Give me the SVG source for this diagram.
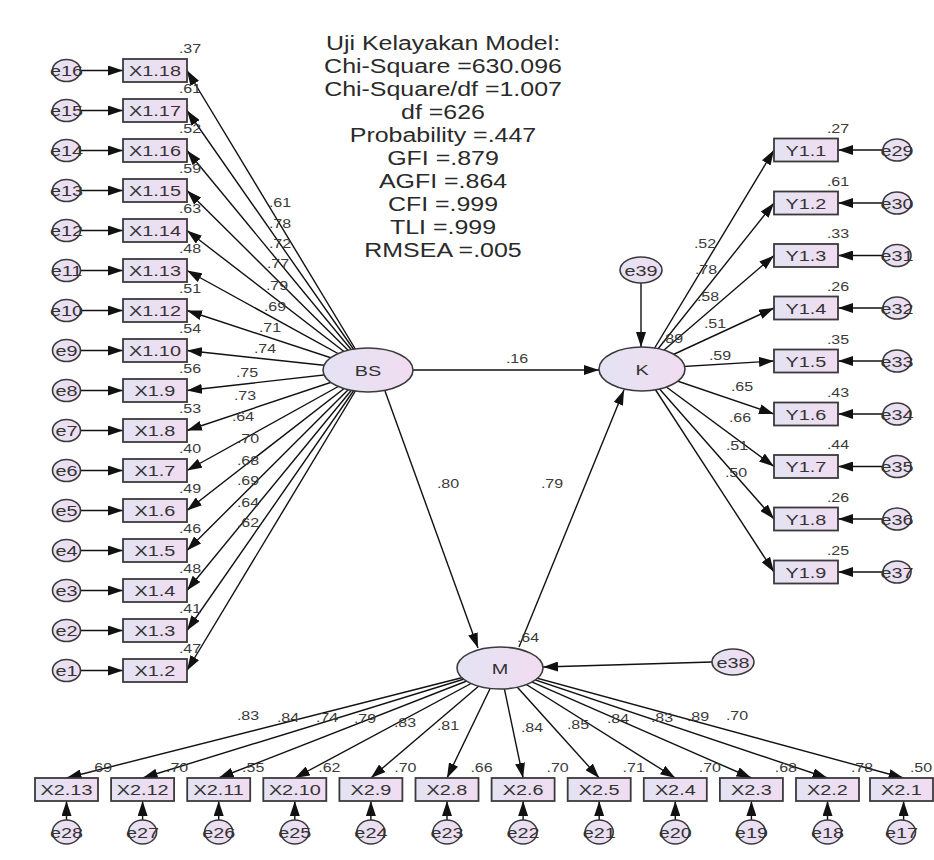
<svg xmlns="http://www.w3.org/2000/svg" width="934" height="860" viewBox="0 0 934 860">
<defs>
<linearGradient id="fillg" x1="0" y1="0" x2="1" y2="0">
<stop offset="0" stop-color="#e3e3f3"/>
<stop offset="1" stop-color="#f1dcf0"/>
</linearGradient>
<marker id="ah" viewBox="0 0 15 10" refX="15" refY="5" markerWidth="15" markerHeight="10" markerUnits="userSpaceOnUse" orient="auto">
<path d="M0,0 L15,5 L0,10 z" fill="#111"/>
</marker>
<style>
.box{fill:url(#fillg);stroke:#3a3a3a;stroke-width:1.8}
.lat{fill:url(#fillg);stroke:#3a3a3a;stroke-width:1.6}
.err{fill:url(#fillg);stroke:#3a3a3a;stroke-width:1.6}
.ln{stroke:#111;stroke-width:1.4;fill:none;marker-end:url(#ah)}
text{font-family:"Liberation Sans",Arial,sans-serif;text-anchor:middle;fill:#333}
.lb{font-size:15.5px}
.sm{font-size:12.5px;fill:#3a3a3a}
.st{font-size:19.5px;fill:#2a2a2a}
</style>
</defs>
<rect width="934" height="860" fill="#fff"/>

<g id="connectors">
<line class="ln" x1="368" y1="370" x2="187" y2="70.5"/>
<line class="ln" x1="368" y1="370" x2="187" y2="110.5"/>
<line class="ln" x1="368" y1="370" x2="187" y2="150.5"/>
<line class="ln" x1="368" y1="370" x2="187" y2="190.5"/>
<line class="ln" x1="368" y1="370" x2="187" y2="230.5"/>
<line class="ln" x1="368" y1="370" x2="187" y2="270.5"/>
<line class="ln" x1="368" y1="370" x2="187" y2="310.5"/>
<line class="ln" x1="368" y1="370" x2="187" y2="350.5"/>
<line class="ln" x1="368" y1="370" x2="187" y2="390.5"/>
<line class="ln" x1="368" y1="370" x2="187" y2="430.5"/>
<line class="ln" x1="368" y1="370" x2="187" y2="470.5"/>
<line class="ln" x1="368" y1="370" x2="187" y2="510.5"/>
<line class="ln" x1="368" y1="370" x2="187" y2="550.5"/>
<line class="ln" x1="368" y1="370" x2="187" y2="590.5"/>
<line class="ln" x1="368" y1="370" x2="187" y2="630.5"/>
<line class="ln" x1="368" y1="370" x2="187" y2="670.5"/>
<line class="ln" x1="80.5" y1="70.5" x2="123" y2="70.5"/>
<line class="ln" x1="80.5" y1="110.5" x2="123" y2="110.5"/>
<line class="ln" x1="80.5" y1="150.5" x2="123" y2="150.5"/>
<line class="ln" x1="80.5" y1="190.5" x2="123" y2="190.5"/>
<line class="ln" x1="80.5" y1="230.5" x2="123" y2="230.5"/>
<line class="ln" x1="80.5" y1="270.5" x2="123" y2="270.5"/>
<line class="ln" x1="80.5" y1="310.5" x2="123" y2="310.5"/>
<line class="ln" x1="80.5" y1="350.5" x2="123" y2="350.5"/>
<line class="ln" x1="80.5" y1="390.5" x2="123" y2="390.5"/>
<line class="ln" x1="80.5" y1="430.5" x2="123" y2="430.5"/>
<line class="ln" x1="80.5" y1="470.5" x2="123" y2="470.5"/>
<line class="ln" x1="80.5" y1="510.5" x2="123" y2="510.5"/>
<line class="ln" x1="80.5" y1="550.5" x2="123" y2="550.5"/>
<line class="ln" x1="80.5" y1="590.5" x2="123" y2="590.5"/>
<line class="ln" x1="80.5" y1="630.5" x2="123" y2="630.5"/>
<line class="ln" x1="80.5" y1="670.5" x2="123" y2="670.5"/>
<line class="ln" x1="642" y1="369" x2="774" y2="150"/>
<line class="ln" x1="642" y1="369" x2="774" y2="203"/>
<line class="ln" x1="642" y1="369" x2="774" y2="255.5"/>
<line class="ln" x1="642" y1="369" x2="774" y2="308"/>
<line class="ln" x1="642" y1="369" x2="774" y2="361"/>
<line class="ln" x1="642" y1="369" x2="774" y2="414"/>
<line class="ln" x1="642" y1="369" x2="774" y2="466.5"/>
<line class="ln" x1="642" y1="369" x2="774" y2="519"/>
<line class="ln" x1="642" y1="369" x2="774" y2="572"/>
<line class="ln" x1="883" y1="150" x2="838" y2="150"/>
<line class="ln" x1="883" y1="203" x2="838" y2="203"/>
<line class="ln" x1="883" y1="255.5" x2="838" y2="255.5"/>
<line class="ln" x1="883" y1="308" x2="838" y2="308"/>
<line class="ln" x1="883" y1="361" x2="838" y2="361"/>
<line class="ln" x1="883" y1="414" x2="838" y2="414"/>
<line class="ln" x1="883" y1="466.5" x2="838" y2="466.5"/>
<line class="ln" x1="883" y1="519" x2="838" y2="519"/>
<line class="ln" x1="883" y1="572" x2="838" y2="572"/>
<line class="ln" x1="500" y1="668" x2="66.5" y2="778"/>
<line class="ln" x1="500" y1="668" x2="142.6" y2="778"/>
<line class="ln" x1="500" y1="668" x2="218.7" y2="778"/>
<line class="ln" x1="500" y1="668" x2="294.8" y2="778"/>
<line class="ln" x1="500" y1="668" x2="370.9" y2="778"/>
<line class="ln" x1="500" y1="668" x2="447" y2="778"/>
<line class="ln" x1="500" y1="668" x2="523.1" y2="778"/>
<line class="ln" x1="500" y1="668" x2="599.2" y2="778"/>
<line class="ln" x1="500" y1="668" x2="675.3" y2="778"/>
<line class="ln" x1="500" y1="668" x2="751.4" y2="778"/>
<line class="ln" x1="500" y1="668" x2="827.5" y2="778"/>
<line class="ln" x1="500" y1="668" x2="903.6" y2="778"/>
<line class="ln" x1="66.5" y1="820" x2="66.5" y2="801"/>
<line class="ln" x1="142.6" y1="820" x2="142.6" y2="801"/>
<line class="ln" x1="218.7" y1="820" x2="218.7" y2="801"/>
<line class="ln" x1="294.8" y1="820" x2="294.8" y2="801"/>
<line class="ln" x1="370.9" y1="820" x2="370.9" y2="801"/>
<line class="ln" x1="447" y1="820" x2="447" y2="801"/>
<line class="ln" x1="523.1" y1="820" x2="523.1" y2="801"/>
<line class="ln" x1="599.2" y1="820" x2="599.2" y2="801"/>
<line class="ln" x1="675.3" y1="820" x2="675.3" y2="801"/>
<line class="ln" x1="751.4" y1="820" x2="751.4" y2="801"/>
<line class="ln" x1="827.5" y1="820" x2="827.5" y2="801"/>
<line class="ln" x1="903.6" y1="820" x2="903.6" y2="801"/>
<line class="ln" x1="413" y1="370" x2="599" y2="370"/>
<line class="ln" x1="385" y1="391" x2="478" y2="648"/>
<line class="ln" x1="519" y1="647" x2="624" y2="390"/>
<line class="ln" x1="641" y1="283" x2="641" y2="347"/>
<line class="ln" x1="712" y1="662" x2="543" y2="667"/>
<g class="coef">
<text class="sm" transform="translate(280 206.5) scale(1.28 1)">.61</text>
<text class="sm" transform="translate(280 227.5) scale(1.28 1)">.78</text>
<text class="sm" transform="translate(280 247.5) scale(1.28 1)">.72</text>
<text class="sm" transform="translate(278 267.5) scale(1.28 1)">.77</text>
<text class="sm" transform="translate(277 289.5) scale(1.28 1)">.79</text>
<text class="sm" transform="translate(275 310.5) scale(1.28 1)">.69</text>
<text class="sm" transform="translate(270 331.5) scale(1.28 1)">.71</text>
<text class="sm" transform="translate(265 352.5) scale(1.28 1)">.74</text>
<text class="sm" transform="translate(247 376.5) scale(1.28 1)">.75</text>
<text class="sm" transform="translate(245 399.5) scale(1.28 1)">.73</text>
<text class="sm" transform="translate(243 420.5) scale(1.28 1)">.64</text>
<text class="sm" transform="translate(248 442.5) scale(1.28 1)">.70</text>
<text class="sm" transform="translate(248 464.5) scale(1.28 1)">.68</text>
<text class="sm" transform="translate(248 484.5) scale(1.28 1)">.69</text>
<text class="sm" transform="translate(248 506.5) scale(1.28 1)">.64</text>
<text class="sm" transform="translate(248 526.5) scale(1.28 1)">.62</text>
<text class="sm" transform="translate(705 247.5) scale(1.28 1)">.52</text>
<text class="sm" transform="translate(706 273.5) scale(1.28 1)">.78</text>
<text class="sm" transform="translate(708 300.5) scale(1.28 1)">.58</text>
<text class="sm" transform="translate(715 327.5) scale(1.28 1)">.51</text>
<text class="sm" transform="translate(720 359.5) scale(1.28 1)">.59</text>
<text class="sm" transform="translate(742 390.5) scale(1.28 1)">.65</text>
<text class="sm" transform="translate(740 421.5) scale(1.28 1)">.66</text>
<text class="sm" transform="translate(737 449.5) scale(1.28 1)">.51</text>
<text class="sm" transform="translate(736 476.5) scale(1.28 1)">.50</text>
<text class="sm" transform="translate(248 719.5) scale(1.28 1)">.83</text>
<text class="sm" transform="translate(288 721.5) scale(1.28 1)">.84</text>
<text class="sm" transform="translate(327 721.5) scale(1.28 1)">.74</text>
<text class="sm" transform="translate(365 722.5) scale(1.28 1)">.79</text>
<text class="sm" transform="translate(405 726.5) scale(1.28 1)">.83</text>
<text class="sm" transform="translate(448 729.5) scale(1.28 1)">.81</text>
<text class="sm" transform="translate(532 731.5) scale(1.28 1)">.84</text>
<text class="sm" transform="translate(578 728.5) scale(1.28 1)">.85</text>
<text class="sm" transform="translate(618 722.5) scale(1.28 1)">.84</text>
<text class="sm" transform="translate(662 721.5) scale(1.28 1)">.83</text>
<text class="sm" transform="translate(698 720.5) scale(1.28 1)">.89</text>
<text class="sm" transform="translate(737 719.5) scale(1.28 1)">.70</text>
<text class="sm" transform="translate(517 362.5) scale(1.28 1)">.16</text>
<text class="sm" transform="translate(448 487.5) scale(1.28 1)">.80</text>
<text class="sm" transform="translate(552 487.5) scale(1.28 1)">.79</text>
</g>
</g>

<g id="fit-stats">
<text class="st" transform="translate(443 50) scale(1.28 1)">Uji Kelayakan Model:</text>
<text class="st" transform="translate(443 73) scale(1.28 1)">Chi-Square =630.096</text>
<text class="st" transform="translate(443 96) scale(1.28 1)">Chi-Square/df =1.007</text>
<text class="st" transform="translate(443 119) scale(1.28 1)">df =626</text>
<text class="st" transform="translate(443 142) scale(1.28 1)">Probability =.447</text>
<text class="st" transform="translate(443 165) scale(1.28 1)">GFI =.879</text>
<text class="st" transform="translate(443 188) scale(1.28 1)">AGFI =.864</text>
<text class="st" transform="translate(443 211) scale(1.28 1)">CFI =.999</text>
<text class="st" transform="translate(443 234) scale(1.28 1)">TLI =.999</text>
<text class="st" transform="translate(443 257) scale(1.28 1)">RMSEA =.005</text>
</g>

<g id="BS"><ellipse class="lat" cx="368" cy="370" rx="45" ry="22"/><text class="lb" transform="translate(368 375.5) scale(1.28 1)">BS</text></g>
<g id="K"><ellipse class="lat" cx="642" cy="369" rx="43" ry="22"/><text class="lb" transform="translate(642 374.5) scale(1.28 1)">K</text><text class="sm" transform="translate(672 342.5) scale(1.28 1)">.89</text></g>
<g id="M"><ellipse class="lat" cx="500" cy="668" rx="43" ry="21"/><text class="lb" transform="translate(500 673.5) scale(1.28 1)">M</text><text class="sm" transform="translate(528 641.5) scale(1.28 1)">.64</text></g>
<g id="e39"><ellipse class="err" cx="641" cy="270" rx="21" ry="13"/><text class="lb" transform="translate(641 275.5) scale(1.28 1)">e39</text></g>
<g id="e38"><ellipse class="err" cx="733" cy="662" rx="21" ry="13"/><text class="lb" transform="translate(733 667.5) scale(1.28 1)">e38</text></g>

<g id="X1_18"><rect class="box" x="123" y="59" width="64" height="23"/><text class="lb" transform="translate(155 76) scale(1.28 1)">X1.18</text><text class="sm" transform="translate(190 53) scale(1.28 1)">.37</text></g>
<g id="X1_17"><rect class="box" x="123" y="99" width="64" height="23"/><text class="lb" transform="translate(155 116) scale(1.28 1)">X1.17</text><text class="sm" transform="translate(190 93) scale(1.28 1)">.61</text></g>
<g id="X1_16"><rect class="box" x="123" y="139" width="64" height="23"/><text class="lb" transform="translate(155 156) scale(1.28 1)">X1.16</text><text class="sm" transform="translate(190 133) scale(1.28 1)">.52</text></g>
<g id="X1_15"><rect class="box" x="123" y="179" width="64" height="23"/><text class="lb" transform="translate(155 196) scale(1.28 1)">X1.15</text><text class="sm" transform="translate(190 173) scale(1.28 1)">.59</text></g>
<g id="X1_14"><rect class="box" x="123" y="219" width="64" height="23"/><text class="lb" transform="translate(155 236) scale(1.28 1)">X1.14</text><text class="sm" transform="translate(190 213) scale(1.28 1)">.63</text></g>
<g id="X1_13"><rect class="box" x="123" y="259" width="64" height="23"/><text class="lb" transform="translate(155 276) scale(1.28 1)">X1.13</text><text class="sm" transform="translate(190 253) scale(1.28 1)">.48</text></g>
<g id="X1_12"><rect class="box" x="123" y="299" width="64" height="23"/><text class="lb" transform="translate(155 316) scale(1.28 1)">X1.12</text><text class="sm" transform="translate(190 293) scale(1.28 1)">.51</text></g>
<g id="X1_10"><rect class="box" x="123" y="339" width="64" height="23"/><text class="lb" transform="translate(155 356) scale(1.28 1)">X1.10</text><text class="sm" transform="translate(190 333) scale(1.28 1)">.54</text></g>
<g id="X1_9"><rect class="box" x="123" y="379" width="64" height="23"/><text class="lb" transform="translate(155 396) scale(1.28 1)">X1.9</text><text class="sm" transform="translate(190 373) scale(1.28 1)">.56</text></g>
<g id="X1_8"><rect class="box" x="123" y="419" width="64" height="23"/><text class="lb" transform="translate(155 436) scale(1.28 1)">X1.8</text><text class="sm" transform="translate(190 413) scale(1.28 1)">.53</text></g>
<g id="X1_7"><rect class="box" x="123" y="459" width="64" height="23"/><text class="lb" transform="translate(155 476) scale(1.28 1)">X1.7</text><text class="sm" transform="translate(190 453) scale(1.28 1)">.40</text></g>
<g id="X1_6"><rect class="box" x="123" y="499" width="64" height="23"/><text class="lb" transform="translate(155 516) scale(1.28 1)">X1.6</text><text class="sm" transform="translate(190 493) scale(1.28 1)">.49</text></g>
<g id="X1_5"><rect class="box" x="123" y="539" width="64" height="23"/><text class="lb" transform="translate(155 556) scale(1.28 1)">X1.5</text><text class="sm" transform="translate(190 533) scale(1.28 1)">.46</text></g>
<g id="X1_4"><rect class="box" x="123" y="579" width="64" height="23"/><text class="lb" transform="translate(155 596) scale(1.28 1)">X1.4</text><text class="sm" transform="translate(190 573) scale(1.28 1)">.48</text></g>
<g id="X1_3"><rect class="box" x="123" y="619" width="64" height="23"/><text class="lb" transform="translate(155 636) scale(1.28 1)">X1.3</text><text class="sm" transform="translate(190 613) scale(1.28 1)">.41</text></g>
<g id="X1_2"><rect class="box" x="123" y="659" width="64" height="23"/><text class="lb" transform="translate(155 676) scale(1.28 1)">X1.2</text><text class="sm" transform="translate(190 653) scale(1.28 1)">.47</text></g>

<g id="e16"><ellipse class="err" cx="66.5" cy="70.5" rx="14" ry="11"/><text class="lb" transform="translate(66.5 76) scale(1.28 1)">e16</text></g>
<g id="e15"><ellipse class="err" cx="66.5" cy="110.5" rx="14" ry="11"/><text class="lb" transform="translate(66.5 116) scale(1.28 1)">e15</text></g>
<g id="e14"><ellipse class="err" cx="66.5" cy="150.5" rx="14" ry="11"/><text class="lb" transform="translate(66.5 156) scale(1.28 1)">e14</text></g>
<g id="e13"><ellipse class="err" cx="66.5" cy="190.5" rx="14" ry="11"/><text class="lb" transform="translate(66.5 196) scale(1.28 1)">e13</text></g>
<g id="e12"><ellipse class="err" cx="66.5" cy="230.5" rx="14" ry="11"/><text class="lb" transform="translate(66.5 236) scale(1.28 1)">e12</text></g>
<g id="e11"><ellipse class="err" cx="66.5" cy="270.5" rx="14" ry="11"/><text class="lb" transform="translate(66.5 276) scale(1.28 1)">e11</text></g>
<g id="e10"><ellipse class="err" cx="66.5" cy="310.5" rx="14" ry="11"/><text class="lb" transform="translate(66.5 316) scale(1.28 1)">e10</text></g>
<g id="e9"><ellipse class="err" cx="66.5" cy="350.5" rx="14" ry="11"/><text class="lb" transform="translate(66.5 356) scale(1.28 1)">e9</text></g>
<g id="e8"><ellipse class="err" cx="66.5" cy="390.5" rx="14" ry="11"/><text class="lb" transform="translate(66.5 396) scale(1.28 1)">e8</text></g>
<g id="e7"><ellipse class="err" cx="66.5" cy="430.5" rx="14" ry="11"/><text class="lb" transform="translate(66.5 436) scale(1.28 1)">e7</text></g>
<g id="e6"><ellipse class="err" cx="66.5" cy="470.5" rx="14" ry="11"/><text class="lb" transform="translate(66.5 476) scale(1.28 1)">e6</text></g>
<g id="e5"><ellipse class="err" cx="66.5" cy="510.5" rx="14" ry="11"/><text class="lb" transform="translate(66.5 516) scale(1.28 1)">e5</text></g>
<g id="e4"><ellipse class="err" cx="66.5" cy="550.5" rx="14" ry="11"/><text class="lb" transform="translate(66.5 556) scale(1.28 1)">e4</text></g>
<g id="e3"><ellipse class="err" cx="66.5" cy="590.5" rx="14" ry="11"/><text class="lb" transform="translate(66.5 596) scale(1.28 1)">e3</text></g>
<g id="e2"><ellipse class="err" cx="66.5" cy="630.5" rx="14" ry="11"/><text class="lb" transform="translate(66.5 636) scale(1.28 1)">e2</text></g>
<g id="e1"><ellipse class="err" cx="66.5" cy="670.5" rx="14" ry="11"/><text class="lb" transform="translate(66.5 676) scale(1.28 1)">e1</text></g>

<g id="Y1_1"><rect class="box" x="774" y="138.5" width="64" height="23"/><text class="lb" transform="translate(806 155.5) scale(1.28 1)">Y1.1</text><text class="sm" transform="translate(838 132.5) scale(1.28 1)">.27</text></g>
<g id="Y1_2"><rect class="box" x="774" y="191.5" width="64" height="23"/><text class="lb" transform="translate(806 208.5) scale(1.28 1)">Y1.2</text><text class="sm" transform="translate(838 185.5) scale(1.28 1)">.61</text></g>
<g id="Y1_3"><rect class="box" x="774" y="244" width="64" height="23"/><text class="lb" transform="translate(806 261) scale(1.28 1)">Y1.3</text><text class="sm" transform="translate(838 238) scale(1.28 1)">.33</text></g>
<g id="Y1_4"><rect class="box" x="774" y="296.5" width="64" height="23"/><text class="lb" transform="translate(806 313.5) scale(1.28 1)">Y1.4</text><text class="sm" transform="translate(838 290.5) scale(1.28 1)">.26</text></g>
<g id="Y1_5"><rect class="box" x="774" y="349.5" width="64" height="23"/><text class="lb" transform="translate(806 366.5) scale(1.28 1)">Y1.5</text><text class="sm" transform="translate(838 343.5) scale(1.28 1)">.35</text></g>
<g id="Y1_6"><rect class="box" x="774" y="402.5" width="64" height="23"/><text class="lb" transform="translate(806 419.5) scale(1.28 1)">Y1.6</text><text class="sm" transform="translate(838 396.5) scale(1.28 1)">.43</text></g>
<g id="Y1_7"><rect class="box" x="774" y="455" width="64" height="23"/><text class="lb" transform="translate(806 472) scale(1.28 1)">Y1.7</text><text class="sm" transform="translate(838 449) scale(1.28 1)">.44</text></g>
<g id="Y1_8"><rect class="box" x="774" y="507.5" width="64" height="23"/><text class="lb" transform="translate(806 524.5) scale(1.28 1)">Y1.8</text><text class="sm" transform="translate(838 501.5) scale(1.28 1)">.26</text></g>
<g id="Y1_9"><rect class="box" x="774" y="560.5" width="64" height="23"/><text class="lb" transform="translate(806 577.5) scale(1.28 1)">Y1.9</text><text class="sm" transform="translate(838 554.5) scale(1.28 1)">.25</text></g>

<g id="e29"><ellipse class="err" cx="897" cy="150" rx="14" ry="11"/><text class="lb" transform="translate(897 155.5) scale(1.28 1)">e29</text></g>
<g id="e30"><ellipse class="err" cx="897" cy="203" rx="14" ry="11"/><text class="lb" transform="translate(897 208.5) scale(1.28 1)">e30</text></g>
<g id="e31"><ellipse class="err" cx="897" cy="255.5" rx="14" ry="11"/><text class="lb" transform="translate(897 261) scale(1.28 1)">e31</text></g>
<g id="e32"><ellipse class="err" cx="897" cy="308" rx="14" ry="11"/><text class="lb" transform="translate(897 313.5) scale(1.28 1)">e32</text></g>
<g id="e33"><ellipse class="err" cx="897" cy="361" rx="14" ry="11"/><text class="lb" transform="translate(897 366.5) scale(1.28 1)">e33</text></g>
<g id="e34"><ellipse class="err" cx="897" cy="414" rx="14" ry="11"/><text class="lb" transform="translate(897 419.5) scale(1.28 1)">e34</text></g>
<g id="e35"><ellipse class="err" cx="897" cy="466.5" rx="14" ry="11"/><text class="lb" transform="translate(897 472) scale(1.28 1)">e35</text></g>
<g id="e36"><ellipse class="err" cx="897" cy="519" rx="14" ry="11"/><text class="lb" transform="translate(897 524.5) scale(1.28 1)">e36</text></g>
<g id="e37"><ellipse class="err" cx="897" cy="572" rx="14" ry="11"/><text class="lb" transform="translate(897 577.5) scale(1.28 1)">e37</text></g>

<g id="X2_13"><rect class="box" x="35" y="778" width="63" height="23"/><text class="lb" transform="translate(66.5 795) scale(1.28 1)">X2.13</text><text class="sm" transform="translate(101 771.5) scale(1.28 1)">.69</text></g>
<g id="X2_12"><rect class="box" x="111.1" y="778" width="63" height="23"/><text class="lb" transform="translate(142.6 795) scale(1.28 1)">X2.12</text><text class="sm" transform="translate(177.1 771.5) scale(1.28 1)">.70</text></g>
<g id="X2_11"><rect class="box" x="187.2" y="778" width="63" height="23"/><text class="lb" transform="translate(218.7 795) scale(1.28 1)">X2.11</text><text class="sm" transform="translate(253.2 771.5) scale(1.28 1)">.55</text></g>
<g id="X2_10"><rect class="box" x="263.3" y="778" width="63" height="23"/><text class="lb" transform="translate(294.8 795) scale(1.28 1)">X2.10</text><text class="sm" transform="translate(329.3 771.5) scale(1.28 1)">.62</text></g>
<g id="X2_9"><rect class="box" x="339.4" y="778" width="63" height="23"/><text class="lb" transform="translate(370.9 795) scale(1.28 1)">X2.9</text><text class="sm" transform="translate(405.4 771.5) scale(1.28 1)">.70</text></g>
<g id="X2_8"><rect class="box" x="415.5" y="778" width="63" height="23"/><text class="lb" transform="translate(447 795) scale(1.28 1)">X2.8</text><text class="sm" transform="translate(481.5 771.5) scale(1.28 1)">.66</text></g>
<g id="X2_6"><rect class="box" x="491.6" y="778" width="63" height="23"/><text class="lb" transform="translate(523.1 795) scale(1.28 1)">X2.6</text><text class="sm" transform="translate(557.6 771.5) scale(1.28 1)">.70</text></g>
<g id="X2_5"><rect class="box" x="567.7" y="778" width="63" height="23"/><text class="lb" transform="translate(599.2 795) scale(1.28 1)">X2.5</text><text class="sm" transform="translate(633.7 771.5) scale(1.28 1)">.71</text></g>
<g id="X2_4"><rect class="box" x="643.8" y="778" width="63" height="23"/><text class="lb" transform="translate(675.3 795) scale(1.28 1)">X2.4</text><text class="sm" transform="translate(709.8 771.5) scale(1.28 1)">.70</text></g>
<g id="X2_3"><rect class="box" x="719.9" y="778" width="63" height="23"/><text class="lb" transform="translate(751.4 795) scale(1.28 1)">X2.3</text><text class="sm" transform="translate(785.9 771.5) scale(1.28 1)">.68</text></g>
<g id="X2_2"><rect class="box" x="796" y="778" width="63" height="23"/><text class="lb" transform="translate(827.5 795) scale(1.28 1)">X2.2</text><text class="sm" transform="translate(862 771.5) scale(1.28 1)">.78</text></g>
<g id="X2_1"><rect class="box" x="870" y="778" width="63" height="23"/><text class="lb" transform="translate(901.5 795) scale(1.28 1)">X2.1</text><text class="sm" transform="translate(921 771.5) scale(1.28 1)">.50</text></g>

<g id="e28"><ellipse class="err" cx="66.5" cy="832" rx="14" ry="12"/><text class="lb" transform="translate(66.5 837.5) scale(1.28 1)">e28</text></g>
<g id="e27"><ellipse class="err" cx="142.6" cy="832" rx="14" ry="12"/><text class="lb" transform="translate(142.6 837.5) scale(1.28 1)">e27</text></g>
<g id="e26"><ellipse class="err" cx="218.7" cy="832" rx="14" ry="12"/><text class="lb" transform="translate(218.7 837.5) scale(1.28 1)">e26</text></g>
<g id="e25"><ellipse class="err" cx="294.8" cy="832" rx="14" ry="12"/><text class="lb" transform="translate(294.8 837.5) scale(1.28 1)">e25</text></g>
<g id="e24"><ellipse class="err" cx="370.9" cy="832" rx="14" ry="12"/><text class="lb" transform="translate(370.9 837.5) scale(1.28 1)">e24</text></g>
<g id="e23"><ellipse class="err" cx="447" cy="832" rx="14" ry="12"/><text class="lb" transform="translate(447 837.5) scale(1.28 1)">e23</text></g>
<g id="e22"><ellipse class="err" cx="523.1" cy="832" rx="14" ry="12"/><text class="lb" transform="translate(523.1 837.5) scale(1.28 1)">e22</text></g>
<g id="e21"><ellipse class="err" cx="599.2" cy="832" rx="14" ry="12"/><text class="lb" transform="translate(599.2 837.5) scale(1.28 1)">e21</text></g>
<g id="e20"><ellipse class="err" cx="675.3" cy="832" rx="14" ry="12"/><text class="lb" transform="translate(675.3 837.5) scale(1.28 1)">e20</text></g>
<g id="e19"><ellipse class="err" cx="751.4" cy="832" rx="14" ry="12"/><text class="lb" transform="translate(751.4 837.5) scale(1.28 1)">e19</text></g>
<g id="e18"><ellipse class="err" cx="827.5" cy="832" rx="14" ry="12"/><text class="lb" transform="translate(827.5 837.5) scale(1.28 1)">e18</text></g>
<g id="e17"><ellipse class="err" cx="901.5" cy="832" rx="14" ry="12"/><text class="lb" transform="translate(901.5 837.5) scale(1.28 1)">e17</text></g>
</svg>
